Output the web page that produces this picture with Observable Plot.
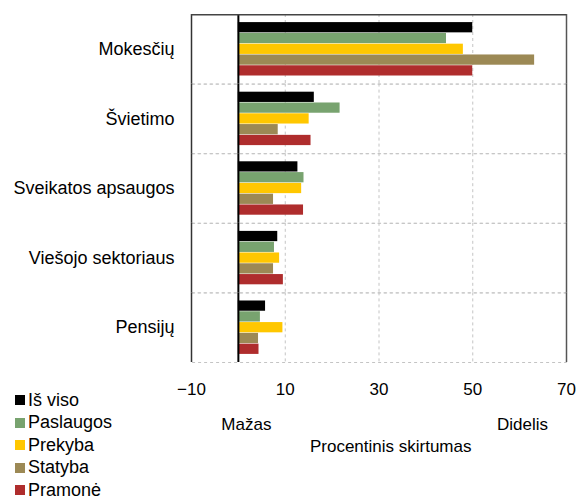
<!DOCTYPE html>
<html>
<head>
<meta charset="utf-8">
<script src="https://cdn.jsdelivr.net/npm/d3@7"></script>
<script src="https://cdn.jsdelivr.net/npm/@observablehq/plot@0.6"></script>
<style>
  html, body { margin: 0; padding: 0; background: #fff; }
  #wrap { position: relative; width: 577px; height: 499px; font-family: "Liberation Sans", Arial, sans-serif; }
  #legend { position: absolute; left: 15px; top: 389px; font-size: 18px; color: #000; }
  #legend .row { display: flex; align-items: center; height: 22.5px; }
  #legend .sw { width: 10px; height: 10px; margin-right: 3px; }
  #chart g[aria-label="fy-axis tick label"] text { font-size: 18px; }
</style>
</head>
<body>
<div id="wrap"><div id="chart"></div><div id="legend"></div></div>
<script>
const categories = ["Mokesčių", "Švietimo", "Sveikatos apsaugos", "Viešojo sektoriaus", "Pensijų"];
const series = ["Iš viso", "Paslaugos", "Prekyba", "Statyba", "Pramonė"];
const colors = ["#000000", "#78A36F", "#FFC700", "#9C8955", "#AF2D2D"];
const isViso    = [50.0, 16.2, 12.7, 8.4, 5.8];
const paslaugos = [44.4, 21.7, 14.0, 7.7, 4.7];
const prekyba   = [48.0, 15.1, 13.5, 8.8, 9.5];
const statyba   = [63.2,  8.5,  7.5, 7.5, 4.3];
const pramone   = [50.0, 15.5, 13.9, 9.6, 4.4];
const xTicks = [-10, 10, 30, 50, 70];
const gridTicks = [10, 30, 50];
const scaleEnds = ["Mažas", "Didelis"];
const axisTitle = "Procentinis skirtumas";

const values = [isViso, paslaugos, prekyba, statyba, pramone];
const rows = [];
categories.forEach((c, ci) => series.forEach((s, si) => rows.push({category: c, series: s, value: values[si][ci]})));

const H = 499, MT = 14, MB = 137;
const facetH = (H - MT - MB) / categories.length;

const chart = Plot.plot({
  width: 577, height: H,
  marginLeft: 191, marginRight: 11, marginTop: MT, marginBottom: MB,
  style: {fontFamily: "'Liberation Sans', Arial, sans-serif", fontSize: "17px", background: "white", color: "#000"},
  x: {domain: [-10, 70], axis: null},
  y: {domain: series, paddingInner: 0.05, paddingOuter: 0.75, round: false, axis: null},
  fy: {domain: categories, padding: 0, round: false, axis: "left", tickSize: 0, tickPadding: 17, label: null},
  color: {domain: series, range: colors},
  marks: [
    Plot.frame({stroke: "#c4c4c4", strokeDasharray: "3,3"}),
    Plot.ruleX(gridTicks, {stroke: "#c4c4c4", strokeDasharray: "3,3"}),
    Plot.barX(rows, {fy: "category", y: "series", x: "value", fill: "series"}),
    Plot.ruleX([-10], {stroke: "#333", strokeWidth: 1.5}),
    Plot.ruleX([70], {stroke: "#555", strokeWidth: 1.5}),
    Plot.ruleX([0], {stroke: "#000", strokeWidth: 2}),
    Plot.rect([categories[0]], {fy: d => d, x1: -10, x2: 70, fill: "#444", insetBottom: facetH - 1.5}),
    Plot.axisX({anchor: "bottom", ticks: xTicks, tickSize: 0, tickPadding: 20, line: true, stroke: "#000", strokeWidth: 2, label: null}),
    Plot.axisX({anchor: "bottom", ticks: [1.7, 60.6], tickFormat: d => d < 30 ? scaleEnds[0] : scaleEnds[1], tickSize: 0, tickPadding: 55, label: null}),
    Plot.axisX({anchor: "bottom", ticks: [32.5], tickFormat: () => axisTitle, tickSize: 0, tickPadding: 77, label: null})
  ]
});
document.getElementById("chart").appendChild(chart);

const legend = d3.select("#legend");
series.forEach((s, i) => {
  const r = legend.append("div").attr("class", "row");
  r.append("div").attr("class", "sw").style("background", colors[i]);
  r.append("span").text(s);
});
</script>
</body>
</html>
